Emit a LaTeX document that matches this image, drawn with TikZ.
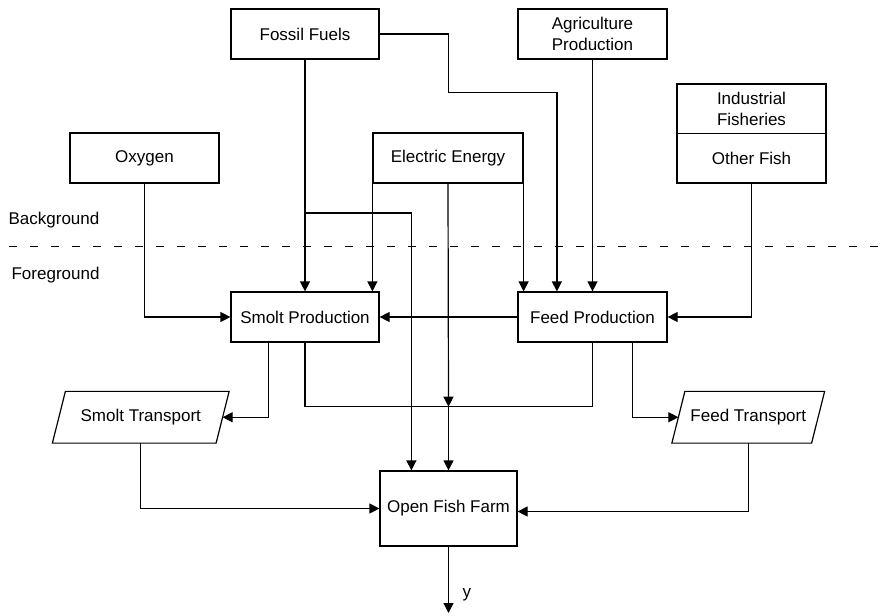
\documentclass[tikz,border=0pt]{standalone}
\usepackage{fontspec}
\setmainfont{Liberation Sans}
\usetikzlibrary{arrows.meta,calc}
\begin{document}
\begin{tikzpicture}[x=0.75pt,y=-0.75pt,
  font=\fontsize{12.75}{15.75}\selectfont,
  line width=0.9pt,
  box/.style={draw, rectangle, inner sep=0pt, align=center, minimum height=37.5pt},
  w148/.style={minimum width=111pt},
  w149/.style={minimum width=111.75pt},
  plain/.style={rectangle, inner sep=0pt, align=center},
  arr/.style={-{Triangle[length=7.5pt,width=7.5pt]}}]
\useasboundingbox (0,0) rectangle (893,615);

% top row
\node[box,w148] (fossil) at (305,34) {Fossil Fuels};
\node[box,w149] (agri) at (592.5,34) {Agriculture\\Production};
\node[box,w149] (oxygen) at (144.5,158) {Oxygen};
\node[box,minimum width=112.5pt] (elec) at (448,158) {Electric Energy};
\node[box,w149,minimum height=37.1pt] (ind1) at (751.5,108.75) {Industrial\\Fisheries};
\node[box,w149,minimum height=37.1pt] (ind2) at (751.5,158.25) {Other Fish};

% labels and separator
\node[plain,anchor=west] (bg) at (8,220) {Background};
\node[plain,anchor=west] (fg) at (11,275) {Foreground};
\coordinate (dl) at (9,246.7);
\coordinate (dr) at (880,246.7);
\draw[dash pattern=on 6pt off 9.75pt] (dl) -- (dr);

% middle row
\node[box,w148] (smolt) at (305,317) {Smolt Production};
\node[box,w149] (feed) at (592.5,317) {Feed Production};

% transports (parallelograms)
\node[plain,minimum width=121.9pt,minimum height=37.9pt] (smoltT) at (140.75,417.25) {Smolt Transport};
\draw ($(smoltT.north east)+(6.5,0)$) -- ($(smoltT.north west)+(6.5,0)$) -- ($(smoltT.south west)+(-6.5,0)$) -- ($(smoltT.south east)+(-6.5,0)$) -- cycle;
\node[plain,minimum width=103.9pt,minimum height=37.9pt] (feedT) at (748.25,417.25) {Feed Transport};
\draw ($(feedT.north east)+(6.5,0)$) -- ($(feedT.north west)+(6.5,0)$) -- ($(feedT.south west)+(-6.5,0)$) -- ($(feedT.south east)+(-6.5,0)$) -- cycle;

% farm
\node[box,minimum width=102.75pt,minimum height=56.25pt] (farm) at (448.5,508.5) {Open Fish Farm};
\coordinate (out) at (448.5,613);
\node[plain,anchor=west] (ylab) at (462,595) {y};

% helper coordinates
\coordinate (fb) at (305,213);
\coordinate (j) at (448.5,406.7);

% connectors
\draw[arr] (fossil.south) -- (smolt.north);
\draw[arr] (fb) -| ($(farm.north west)+(32,0)$);
\draw[arr] (fossil.east) -| (448.3,92.7) -| ($(feed.north west)+(39.5,0)$);
\draw[arr] (agri.south) -- (feed.north);
\draw[arr] (oxygen.south) |- (smolt.west);
\draw[arr] ($(elec.south west)$) -- (elec.south west |- smolt.north);
\draw[arr] ($(elec.south east)$) -- (elec.south east |- feed.north);
\draw[arr] (elec.south) -- (j);
\draw[arr] (j) -- (farm.north);
\draw (smolt.south) |- (j);
\draw (feed.south) |- (j);
\draw[arr] ($(smolt.south west)+(38,0)$) |- (smoltT.east);
\draw[arr] ($(feed.south east)+(-35,0)$) |- (feedT.west);
\draw[arr] (ind2.south) |- (feed.east);
\draw[arr] (feed.west) -- (smolt.east);
\draw[arr] (smoltT.south) |- (farm.west);
\draw[arr] (feedT.south) |- ($(farm.east)+(0,3)$);
\draw[arr] (farm.south) -- (out);
\end{tikzpicture}
\end{document}
